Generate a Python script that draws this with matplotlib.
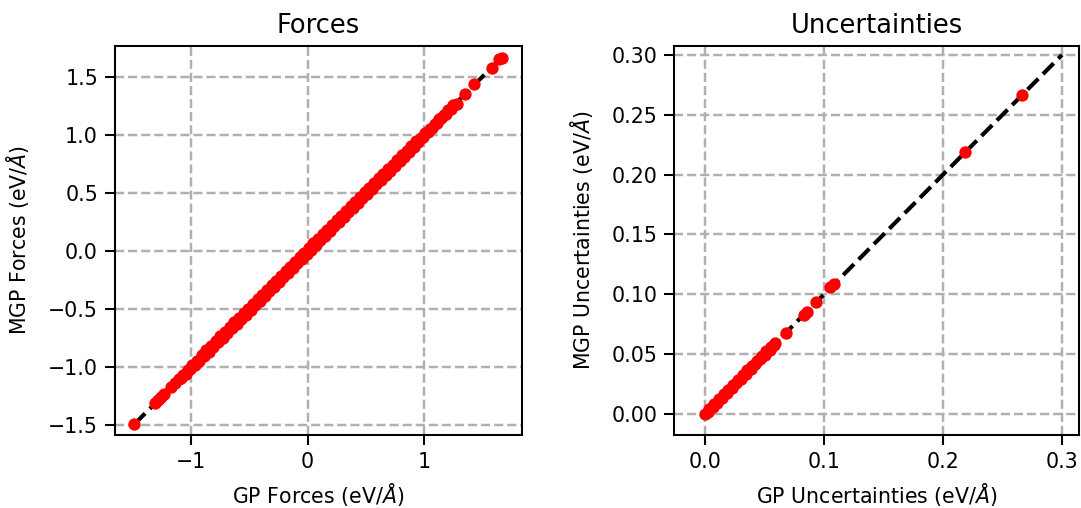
import matplotlib
matplotlib.use("Agg")
import matplotlib.pyplot as plt
from matplotlib.ticker import MultipleLocator

# force predictions: GP vs mapped GP (dense band read along the diagonal)
gp_forces = [-1.49, -1.31, -1.285, -1.26, -1.235, -1.175, -1.14,
             -1.11, -1.09, -1.07, -1.05, -1.03, -1.01, -0.99, -0.97, -0.95, -0.93,
             -0.91, -0.89, -0.87, -0.85, -0.83, -0.81, -0.79, -0.77, -0.75, -0.73,
             -0.71, -0.69, -0.67, -0.65, -0.63, -0.61, -0.59, -0.57, -0.55, -0.53,
             -0.51, -0.49, -0.47, -0.45, -0.43, -0.41, -0.39, -0.37, -0.35, -0.33,
             -0.31, -0.29, -0.27, -0.25, -0.23, -0.21, -0.19, -0.17, -0.15, -0.13,
             -0.11, -0.09, -0.07, -0.05, -0.03, -0.01, 0.01, 0.03, 0.05, 0.07,
             0.09, 0.11, 0.13, 0.15, 0.17, 0.19, 0.21, 0.23, 0.25, 0.27,
             0.29, 0.31, 0.33, 0.35, 0.37, 0.39, 0.41, 0.43, 0.45, 0.47,
             0.49, 0.51, 0.53, 0.55, 0.57, 0.59, 0.61, 0.63, 0.65, 0.67,
             0.69, 0.71, 0.73, 0.75, 0.77, 0.79, 0.81, 0.83, 0.85, 0.87,
             0.89, 0.91, 0.93, 0.95, 0.97, 0.99, 1.01, 1.03, 1.05, 1.07,
             1.09, 1.11, 1.13, 1.15, 1.17, 1.19, 1.21, 1.23, 1.25,
             1.28, 1.352, 1.433, 1.582, 1.648, 1.668]
mgp_forces = [-1.489, -1.305, -1.282, -1.258, -1.232, -1.173, -1.135,
              -1.104, -1.096, -1.064, -1.056, -1.024, -1.016, -0.984, -0.976, -0.944, -0.946,
              -0.894, -0.906, -0.854, -0.866, -0.814, -0.826, -0.774, -0.786, -0.734, -0.746,
              -0.694, -0.706, -0.654, -0.666, -0.614, -0.626, -0.574, -0.586, -0.534, -0.546,
              -0.494, -0.506, -0.454, -0.466, -0.414, -0.426, -0.374, -0.386, -0.334, -0.346,
              -0.294, -0.306, -0.254, -0.266, -0.214, -0.226, -0.174, -0.186, -0.134, -0.146,
              -0.094, -0.106, -0.054, -0.066, -0.014, -0.026, 0.026, 0.014, 0.066, 0.054,
              0.106, 0.094, 0.146, 0.134, 0.186, 0.174, 0.226, 0.214, 0.266, 0.254,
              0.306, 0.294, 0.346, 0.334, 0.386, 0.374, 0.426, 0.414, 0.466, 0.454,
              0.506, 0.494, 0.546, 0.534, 0.586, 0.574, 0.626, 0.614, 0.666, 0.654,
              0.706, 0.694, 0.746, 0.734, 0.786, 0.774, 0.826, 0.814, 0.866, 0.854,
              0.906, 0.894, 0.946, 0.944, 0.976, 0.984, 1.016, 1.024, 1.056, 1.064,
              1.096, 1.104, 1.136, 1.144, 1.176, 1.184, 1.216, 1.224, 1.256,
              1.27, 1.349, 1.435, 1.581, 1.658, 1.667]

# predicted uncertainties
gp_unc = [0.0000, 0.0024, 0.0036, 0.0064, 0.0076, 0.0104, 0.0116, 0.0144, 0.0156, 0.0184,
          0.0196, 0.0224, 0.0236, 0.0264, 0.0276, 0.0304, 0.0316, 0.0344, 0.0356, 0.0384,
          0.0396, 0.0424, 0.0436, 0.0464, 0.0476, 0.0504, 0.0516, 0.0544, 0.0556, 0.0584,
          0.059, 0.0678, 0.0828, 0.0857, 0.093, 0.1054, 0.1083, 0.2184, 0.2667]
mgp_unc = [0.0000, 0.0016, 0.0044, 0.0056, 0.0084, 0.0096, 0.0124, 0.0136, 0.0164, 0.0176,
           0.0204, 0.0216, 0.0244, 0.0256, 0.0284, 0.0296, 0.0324, 0.0336, 0.0364, 0.0376,
           0.0404, 0.0416, 0.0444, 0.0456, 0.0484, 0.0496, 0.0524, 0.0536, 0.0564, 0.0576,
           0.0596, 0.068, 0.0831, 0.0854, 0.0932, 0.1064, 0.1086, 0.2186, 0.2667]

unc_line = [0.0, 0.3]

plt.rcParams['axes.linewidth'] = 1.0
plt.rcParams['xtick.major.width'] = 1.0
plt.rcParams['ytick.major.width'] = 1.0
plt.rcParams['xtick.major.size'] = 4.8
plt.rcParams['ytick.major.size'] = 4.8

dpi = 148
fig = plt.figure(figsize=(1081 / dpi, 508 / dpi), dpi=dpi)

# left panel: forces
ax1 = fig.add_axes([115 / 1081, 73 / 508, 407 / 1081, 389.3 / 508])
ax1.plot([min(gp_forces), max(gp_forces)], [min(gp_forces), max(gp_forces)],
         'k--', linewidth=2, zorder=2)
ax1.scatter(gp_forces, mgp_forces, s=36, c='red', linewidths=0, zorder=3)
ax1.set_xlim(-1.656, 1.842)
ax1.set_ylim(-1.583, 1.769)
ax1.xaxis.set_major_locator(MultipleLocator(1))
ax1.yaxis.set_major_locator(MultipleLocator(0.5))
ax1.grid(linestyle='--', linewidth=1.2, color='#b0b0b0')
ax1.set_axisbelow(True)
ax1.set_title('Forces', fontsize=12.5)
ax1.set_xlabel(r'GP Forces (eV/$\AA$)', labelpad=4.5)
ax1.set_ylabel(r'MGP Forces (eV/$\AA$)', labelpad=8)

# right panel: uncertainties
ax2 = fig.add_axes([674.3 / 1081, 73 / 508, 404.7 / 1081, 389.3 / 508])
ax2.plot(unc_line, unc_line, 'k--', linewidth=2, zorder=2)
ax2.scatter(gp_unc, mgp_unc, s=36, c='red', linewidths=0, zorder=3)
ax2.set_xlim(-0.0258, 0.3143)
ax2.set_ylim(-0.0175, 0.3077)
ax2.xaxis.set_major_locator(MultipleLocator(0.1))
ax2.yaxis.set_major_locator(MultipleLocator(0.05))
ax2.grid(linestyle='--', linewidth=1.2, color='#b0b0b0')
ax2.set_axisbelow(True)
ax2.set_title('Uncertainties', fontsize=12.5)
ax2.set_xlabel(r'GP Uncertainties (eV/$\AA$)', labelpad=4.5)
ax2.set_ylabel(r'MGP Uncertainties (eV/$\AA$)', labelpad=8)

fig.savefig('out.png', dpi=dpi)
